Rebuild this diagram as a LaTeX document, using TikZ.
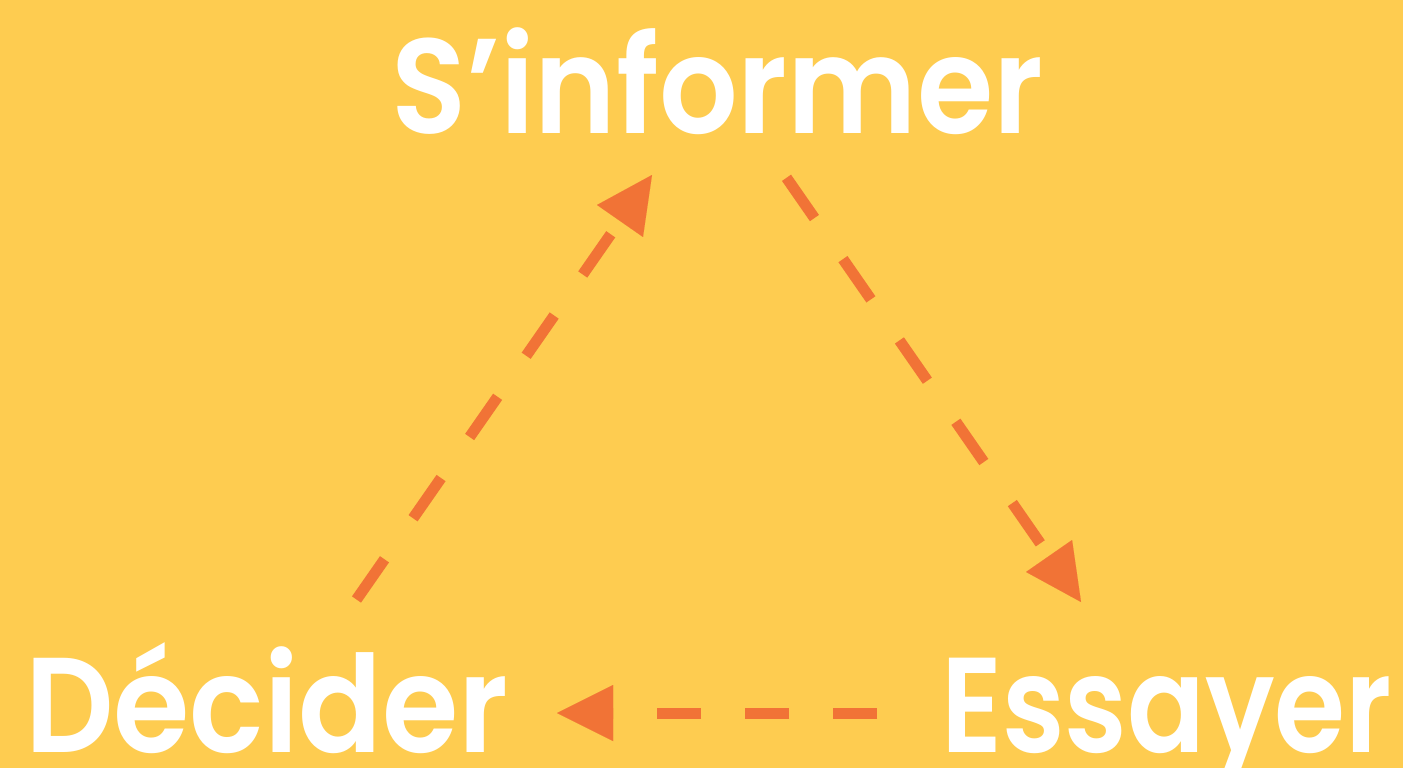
\documentclass[tikz,border=0pt]{standalone}
\usepackage{fontspec}
\usepackage{graphicx}
\setmainfont{Poppins}
\newfontfamily\popsemi{Poppins SemiBold}[FakeStretch=0.915]
\usetikzlibrary{arrows.meta}
\definecolor{bgyellow}{RGB}{254,204,80}
\definecolor{arroworange}{RGB}{241,115,54}
\newlength\esslen
\settowidth\esslen{\popsemi\fontsize{135pt}{140pt}\selectfont Essayer}
\tikzset{
  label text/.style={text=white, inner sep=0pt, anchor=base west, font=\popsemi\fontsize{135pt}{140pt}\selectfont},
  flow/.style={draw=arroworange, line width=11pt, line cap=butt,
    -{Triangle[length=56pt,width=56pt,line width=0.01pt]}},
  diagdash/.style={dash pattern=on 49pt off 50pt},
  horizdash/.style={dash pattern=on 44pt off 44pt}
}
\begin{document}
\begin{tikzpicture}[x=1pt,y=-1pt]
\fill[bgyellow] (0,0) rectangle (1403,768);
\useasboundingbox (0,0) rectangle (1403,768);
\node[label text] (inform) at (391,133) {S’informer};
\node[label text] (decide) at (25,752) {Décider};
\node[label text] (essay) at (941,752) {\scalebox{\fpeval{451pt/(\the\esslen)}}[1]{Essayer}};
\coordinate (d2i-start) at (356.5,599.5);
\coordinate (d2i-tip) at (652,175);
\coordinate (i2e-start) at (786.5,177.8);
\coordinate (i2e-tip) at (1081,602);
\coordinate (e2d-start) at (877,713);
\coordinate (e2d-tip) at (557,713);
\draw[flow, diagdash] (d2i-start) -- (d2i-tip);
\draw[flow, diagdash] (i2e-start) -- (i2e-tip);
\draw[flow, horizdash] (e2d-start) -- (e2d-tip);
\end{tikzpicture}
\end{document}
